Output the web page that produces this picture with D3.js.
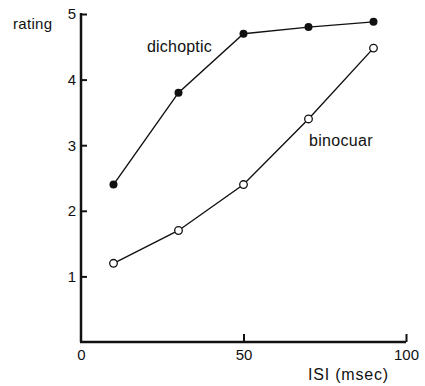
<!DOCTYPE html>
<html>
<head>
<meta charset="utf-8">
<script src="https://cdn.jsdelivr.net/npm/d3@7"></script>
<style>
  html, body { margin: 0; padding: 0; background: #fff; }
  svg { display: block; }
  text { font-family: "Liberation Sans", Arial, Helvetica, sans-serif; fill: #111; }
</style>
</head>
<body>
<svg id="chart" width="425" height="386"></svg>
<script>
// ISI values (msec) at which ratings were collected
const isi = [10, 30, 50, 70, 90];
// Mean ratings per condition
const dichoptic = [2.4, 3.8, 4.7, 4.8, 4.88];
const binocular = [1.2, 1.7, 2.4, 3.4, 4.48];
// Axis tick values
const xTicks = [0, 50, 100];
const yTicks = [1, 2, 3, 4, 5];

const svg = d3.select("#chart");

const x = d3.scaleLinear().domain([0, 100]).range([81, 406]);
const y = d3.scaleLinear().domain([0, 5]).range([342, 14]);

// Axes: ticks point inward, plain dark strokes
const xAxis = svg.append("g")
  .attr("transform", `translate(0,${y(0)})`)
  .call(d3.axisBottom(x).tickValues(xTicks).tickFormat(d3.format("d"))
    .tickSizeInner(-8).tickSizeOuter(0).tickPadding(7));
const yAxis = svg.append("g")
  .attr("transform", `translate(${x(0)},0)`)
  .call(d3.axisLeft(y).tickValues(yTicks).tickFormat(d3.format("d"))
    .tickSizeInner(-6).tickSizeOuter(0).tickPadding(5));

[xAxis, yAxis].forEach(g => {
  g.select(".domain").attr("stroke", "#111").attr("stroke-width", 2.5);
  g.selectAll(".tick line").attr("stroke", "#111").attr("stroke-width", 2);
  g.selectAll(".tick text").style("font-size", "15px").attr("fill", "#111");
});
yAxis.select(".domain").attr("d", `M0,${y(5) - 1}V${y(0)}`);
xAxis.select(".domain").attr("d", `M${x(0) - 1},0H${x(100)}`);
xAxis.selectAll(".tick").filter(d => d === 0).select("line").remove();

const line = d3.line().x((d, i) => x(isi[i])).y(d => y(d));

svg.append("path").datum(dichoptic)
  .attr("d", line).attr("fill", "none").attr("stroke", "#111").attr("stroke-width", 1.4);
svg.append("path").datum(binocular)
  .attr("d", line).attr("fill", "none").attr("stroke", "#111").attr("stroke-width", 1.4);

svg.append("g").selectAll("circle").data(dichoptic).join("circle")
  .attr("cx", (d, i) => x(isi[i])).attr("cy", d => y(d)).attr("r", 4)
  .attr("fill", "#111");
svg.append("g").selectAll("circle").data(binocular).join("circle")
  .attr("cx", (d, i) => x(isi[i])).attr("cy", d => y(d)).attr("r", 3.8)
  .attr("fill", "#fff").attr("stroke", "#111").attr("stroke-width", 1.3);

// Text labels
const label = (t, px, py, size, ls) => svg.append("text")
  .attr("x", px).attr("y", py).style("font-size", size + "px")
  .style("letter-spacing", ls + "px").text(t);
label("rating", 13, 29, 15, 0.3);
label("dichoptic", 147, 52, 16, 0.2);
label("binocuar", 309, 146, 16, 0.3);
label("ISI (msec)", 308, 380, 16, 0.8);
</script>
</body>
</html>
